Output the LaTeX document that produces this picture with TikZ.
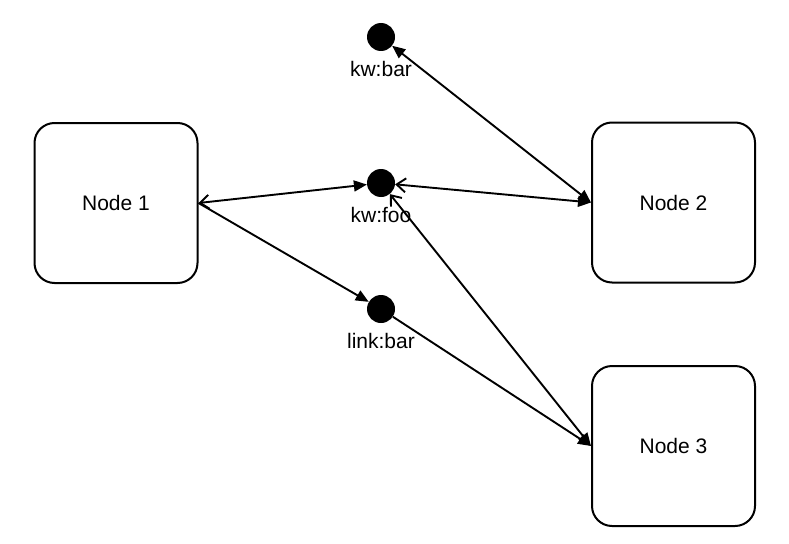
\documentclass[tikz,border=0pt]{standalone}
\usepackage{fontspec}
\setmainfont{Liberation Sans}
\usetikzlibrary{arrows.meta,positioning}

\begin{document}
\begin{tikzpicture}[x=1pt, y=-1pt,
    box/.style={rectangle, draw, rounded corners=20pt, line width=2pt, minimum width=163pt, minimum height=160pt, font=\fontsize{21}{25}\selectfont},
    dot/.style={circle, fill=black, inner sep=0pt, minimum size=28pt},
    tag/.style={inner sep=0pt, font=\fontsize{21}{25}\selectfont},
    link/.style={line width=1.9pt},
    tip/.style={-{Triangle[length=13pt,width=11pt]}},
    both/.style={{Straight Barb[length=9pt,width=14pt]}-{Triangle[length=13pt,width=11pt]}},
    full/.style={{Triangle[length=13pt,width=11pt]}-{Triangle[length=13pt,width=11pt]}}
]
    \useasboundingbox (0,0) rectangle (789,543);

    % Boxes
    \node[box] (n1) at (116, 203) {Node 1};
    \node[box] (n2) at (673.5, 202.5) {Node 2};
    \node[box] (n3) at (673.5, 446) {Node 3};

    % Dots with their tags
    \node[dot] (kwbar) at (381, 37) {};
    \node[tag, below=10pt of kwbar] (kwbartag) {kw:bar};
    \node[dot] (kwfoo) at (381, 183) {};
    \node[tag, below=10pt of kwfoo] (kwfootag) {kw:foo};
    \node[dot] (linkbar) at (381, 309) {};
    \node[tag, below=10pt of linkbar] (linkbartag) {link:bar};

    % Links
    \draw[link, both] (n1.east) -- (kwfoo);
    \draw[link, tip] (n1.east) -- (linkbar);
    \draw[link, full] (kwbar) -- (n2.west);
    \draw[link, both] (kwfoo) -- (n2.west);
    \draw[link, both] (kwfoo) -- (n3.west);
    \draw[link, tip] (linkbar) -- (n3.west);
\end{tikzpicture}
\end{document}
